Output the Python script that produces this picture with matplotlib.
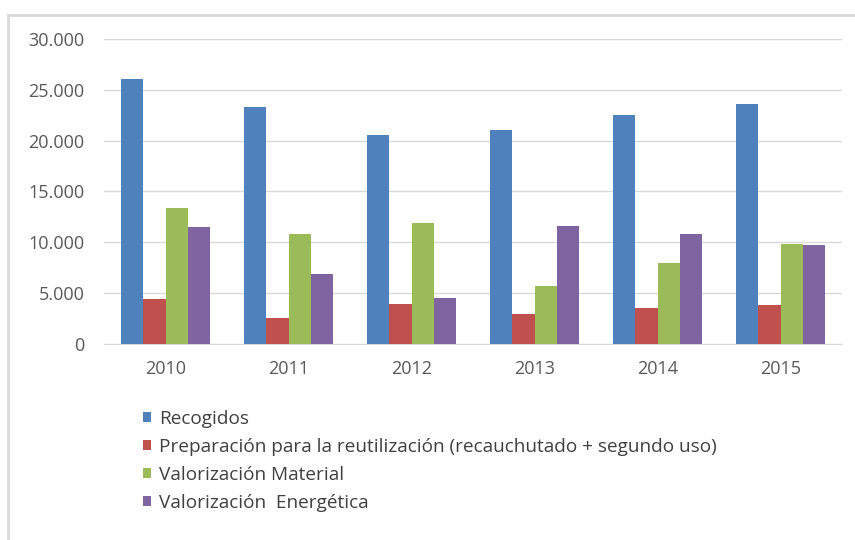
import matplotlib
matplotlib.use("Agg")
import matplotlib.pyplot as plt
from matplotlib.patches import Patch, Rectangle
import numpy as np

years = ["2010", "2011", "2012", "2013", "2014", "2015"]
series_names = [
    "Recogidos",
    "Preparación para la reutilización (recauchutado + segundo uso)",
    "Valorización Material",
    "Valorización  Energética",
]
recogidos = [26000, 23300, 20500, 21050, 22500, 23600]
preparacion = [4400, 2600, 4000, 3000, 3600, 3900]
val_material = [13350, 10800, 11950, 5700, 7950, 9850]
val_energetica = [11500, 6950, 4500, 11600, 10800, 9750]
yticks = [0, 5000, 10000, 15000, 20000, 25000, 30000]
ytick_labels = ["0", "5.000", "10.000", "15.000", "20.000", "25.000", "30.000"]

colors = ["#4F81BD", "#C0504D", "#9BBB59", "#8064A2"]
data = [recogidos, preparacion, val_material, val_energetica]

plt.rcParams['font.family'] = ['Open Sans', 'DejaVu Sans']
W, H = 855, 540
fig = plt.figure(figsize=(W/100, H/100), dpi=100)

# outer frame
fig.patches.append(Rectangle((8/W, -0.05), 1.1, (H-15)/H + 0.05, transform=fig.transFigure,
                             fill=False, edgecolor="#D9D9D9", linewidth=2))

ax = fig.add_axes([104/W, (H-344.3)/H, 738/W, 305.6/H])
x = np.arange(len(years))
bw = 1/5.5
for i, (vals, c, name) in enumerate(zip(data, colors, series_names)):
    ax.bar(x + (i-1.5)*bw, vals, width=bw, color=c, label=name, zorder=3)

ax.set_xlim(-0.5, len(years)-0.5)
ax.set_ylim(0, 30000)
ax.set_yticks(yticks)
ax.set_yticklabels(ytick_labels)
ax.set_xticks(x)
ax.set_xticklabels(years)
ax.grid(axis='y', color="#D9D9D9", linewidth=1, zorder=0)
for s in ["top", "right", "left"]:
    ax.spines[s].set_visible(False)
ax.spines["bottom"].set_color("#D9D9D9")
ax.tick_params(axis='both', length=0, colors="#595959", labelsize=13)
ax.tick_params(axis='y', pad=14)
ax.tick_params(axis='x', pad=11)

handles = [Patch(facecolor=c, edgecolor='none') for c in colors]
fig.legend(handles, series_names, loc="upper left", bbox_to_anchor=(126/W, (H-393)/H),
           frameon=False, fontsize=13.7, labelcolor="#404040",
           handlelength=0.43, handleheight=0.43, handletextpad=0.43, labelspacing=0.52)

fig.savefig("out.png", dpi=100)
